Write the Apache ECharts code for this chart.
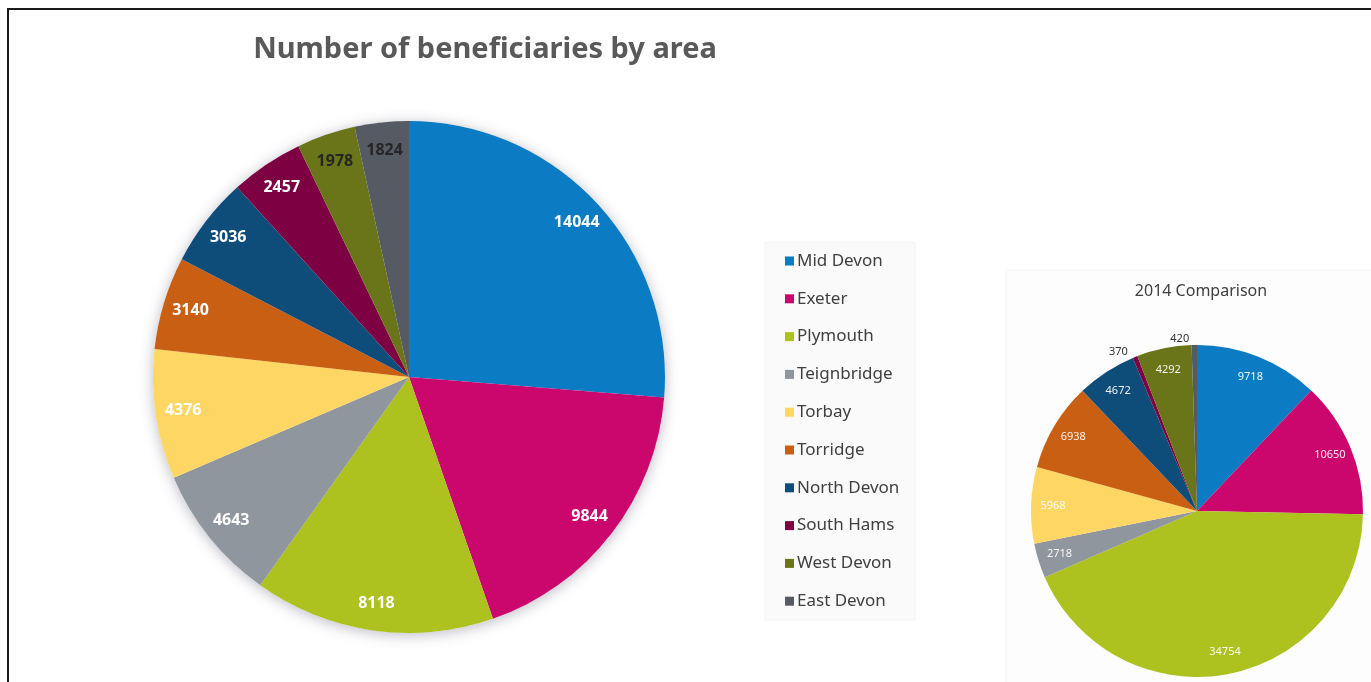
<!DOCTYPE html>
<html>
<head>
<meta charset="utf-8">
<title>Number of beneficiaries by area</title>
<script src="https://cdn.jsdelivr.net/npm/echarts@6/dist/echarts.min.js"></script>
<style>
  html, body { margin: 0; padding: 0; background: #ffffff; }
  #chart { width: 1371px; height: 682px; }
</style>
</head>
<body>
<div id="chart"></div>
<script>
// Areas, in drawing order (clockwise from 12 o'clock)
const areas = ['Mid Devon', 'Exeter', 'Plymouth', 'Teignbridge', 'Torbay',
               'Torridge', 'North Devon', 'South Hams', 'West Devon', 'East Devon'];
// Current number of beneficiaries per area
const beneficiaries = [14044, 9844, 8118, 4643, 4376, 3140, 3036, 2457, 1978, 1824];
// 2014 figures for the same areas
const beneficiaries2014 = [9718, 10650, 34754, 2718, 5968, 6938, 4672, 370, 4292, 420];

const areaColors = ['#0b7cc3', '#cb066d', '#adc11f', '#8f969d', '#fdd663',
                    '#c95f12', '#0e4c79', '#7c0042', '#697518', '#565b63'];

// Slices whose value labels are drawn in dark text
const darkLabelAreas = ['West Devon', 'East Devon'];
// Slices in the 2014 pie whose labels sit outside the rim
const outsideLabelAreas2014 = ['South Hams', 'East Devon'];

const FONT = '"Noto Sans", "Open Sans", sans-serif';

const mainCenter = [409, 377];
const mainR = 256;
const smallCenter = [1197, 511];
const smallR = 166;

const pieData = (values) => values.map((v, i) => ({
  name: areas[i], value: v, itemStyle: { color: areaColors[i] }
}));

const mainLabelData = beneficiaries.map((v, i) => ({
  name: areas[i], value: v,
  label: { color: darkLabelAreas.includes(areas[i]) ? '#262626' : '#ffffff' }
}));

const smallLabelData = beneficiaries2014.map((v, i) => {
  const outside = outsideLabelAreas2014.includes(areas[i]);
  return {
    name: areas[i], value: v,
    label: outside
      ? { position: 'outside', color: '#333333' }
      : { position: 'inside', color: 'rgba(255,255,255,0.92)' },
    labelLine: { show: false, length: 6, length2: 0 }
  };
});

const chart = echarts.init(document.getElementById('chart'), null, { renderer: 'canvas' });

chart.setOption({
  backgroundColor: '#ffffff',
  animation: false,
  title: [
    {
      text: 'Number of beneficiaries by area',
      left: 480, top: 30, textAlign: 'center',
      textStyle: { fontFamily: FONT, fontSize: 29, fontWeight: 'bold', color: '#595959' }
    },
    {
      text: '2014 Comparison',
      left: 1196, top: 278, textAlign: 'center',
      textStyle: { fontFamily: FONT, fontSize: 16, fontWeight: 'normal', color: '#404040' }
    }
  ],
  graphic: [
    // outer frame (top and left edges visible)
    { type: 'rect', z: 100, silent: true,
      shape: { x: 8, y: 9, width: 1400, height: 700 },
      style: { fill: 'none', stroke: '#1a1a1a', lineWidth: 2 } },
    // legend panel
    { type: 'rect', z: -1, silent: true,
      shape: { x: 765, y: 242, width: 150, height: 378 },
      style: { fill: '#fafafa', stroke: '#f2f2f2', lineWidth: 1 } },
    // 2014 panel
    { type: 'rect', z: -1, silent: true,
      shape: { x: 1006, y: 270, width: 370, height: 420 },
      style: { fill: '#fdfdfd', stroke: '#f6f6f6', lineWidth: 1 } }
  ],
  legend: {
    orient: 'vertical',
    left: 780, top: 247,
    data: areas,
    icon: 'rect',
    itemWidth: 9, itemHeight: 9,
    itemGap: 19.8,
    textStyle: { fontFamily: FONT, fontSize: 17, color: '#404040', lineHeight: 18, padding: [0, 0, 0, -2] },
    selectedMode: false
  },
  series: [
    // soft drop shadow under the main pie
    {
      type: 'pie', silent: true, z: 1,
      center: mainCenter, radius: mainR,
      data: [{ value: 1, name: '' }],
      label: { show: false }, labelLine: { show: false },
      itemStyle: { color: '#ffffff', shadowBlur: 14, shadowColor: 'rgba(60,60,90,0.35)', shadowOffsetY: 2 }
    },
    // main pie
    {
      type: 'pie', name: 'Beneficiaries', z: 2,
      center: mainCenter, radius: mainR,
      startAngle: 90, clockwise: true,
      data: pieData(beneficiaries),
      label: { show: false }, labelLine: { show: false },
      itemStyle: { borderWidth: 0 }
    },
    // value labels for the main pie, placed near the rim
    {
      type: 'pie', silent: true, z: 3,
      center: mainCenter, radius: [mainR * 0.76, mainR],
      startAngle: 90, clockwise: true,
      data: mainLabelData,
      itemStyle: { color: 'rgba(0,0,0,0)' },
      label: { show: true, position: 'inside', formatter: '{c}',
               fontFamily: FONT, fontSize: 16, fontWeight: 'bold', color: '#ffffff' },
      labelLine: { show: false },
      avoidLabelOverlap: false
    },
    // 2014 comparison pie
    {
      type: 'pie', name: '2014', z: 2,
      center: smallCenter, radius: smallR,
      startAngle: 90, clockwise: true,
      data: pieData(beneficiaries2014),
      label: { show: false }, labelLine: { show: false },
      itemStyle: { borderWidth: 0 }
    },
    // value labels for the 2014 pie
    {
      type: 'pie', silent: true, z: 3,
      center: smallCenter, radius: [smallR * 0.7, smallR],
      startAngle: 90, clockwise: true,
      data: smallLabelData,
      itemStyle: { color: 'rgba(0,0,0,0)' },
      label: { show: true, formatter: '{c}', fontFamily: FONT, fontSize: 11 },
      avoidLabelOverlap: false
    }
  ]
});
</script>
</body>
</html>
